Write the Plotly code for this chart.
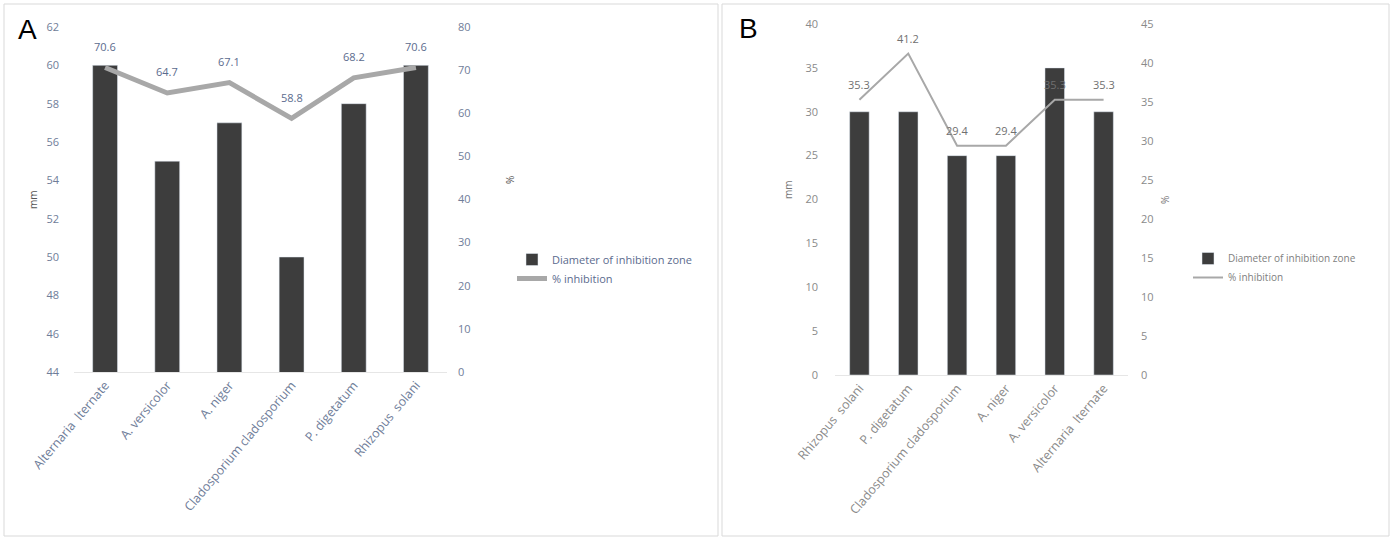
import plotly.graph_objects as go

W, H = 1394, 539

# ---- data ----
cats_a = ["Alternaria  lternate", "A. versicolor", "A. niger",
          "Cladosporium cladosporium", "P. digetatum", "Rhizopus  solani"]
diam_a = [60, 55, 57, 50, 58, 60]
inhib_a = [70.6, 64.7, 67.1, 58.8, 68.2, 70.6]

cats_b = ["Rhizopus  solani", "P. digetatum", "Cladosporium cladosporium",
          "A. niger", "A. versicolor", "Alternaria  lternate"]
diam_b = [30, 30, 25, 25, 35, 30]
inhib_b = [35.3, 41.2, 29.4, 29.4, 35.3, 35.3]

yticks_a_left = list(range(44, 63, 2))
yticks_a_right = list(range(0, 81, 10))
yticks_b_left = list(range(0, 41, 5))
yticks_b_right = list(range(0, 46, 5))


def px(x):
    return x / W


def py(y):
    return 1 - y / H


BAR = "#3d3d3d"
LINE = "#a8a8a8"
TICK_A = "#6f7d99"
TICK_B = "#8a8a8a"
LBL_A = "#5b6b8e"
LBL_B = "#707070"

fig = go.Figure()

# Panel A
fig.add_trace(go.Bar(x=cats_a, y=diam_a, name="Diameter of inhibition zone",
                     marker=dict(color=BAR), width=0.4,
                     xaxis="x", yaxis="y", legend="legend"))
fig.add_trace(go.Scatter(x=cats_a, y=inhib_a, name="% inhibition",
                         mode="lines", line=dict(color=LINE, width=5),
                         xaxis="x", yaxis="y2", legend="legend"))

# Panel B
fig.add_trace(go.Bar(x=cats_b, y=diam_b, name="Diameter of inhibition zone",
                     marker=dict(color=BAR), width=0.4,
                     xaxis="x2", yaxis="y3", legend="legend2"))
fig.add_trace(go.Scatter(x=cats_b, y=inhib_b, name="% inhibition",
                         mode="lines", line=dict(color=LINE, width=2),
                         xaxis="x2", yaxis="y4", legend="legend2"))

dom_a_x = [px(74), px(447)]
dom_a_y = [py(372), py(27)]
dom_b_x = [px(835), px(1128)]
dom_b_y = [py(375), py(24)]

tickfont_a = dict(size=11, color=TICK_A, family="Open Sans")
tickfont_b = dict(size=11, color=TICK_B, family="Open Sans")
xtickfont_a = dict(size=12.5, color=TICK_A, family="Open Sans")
xtickfont_b = dict(size=12.5, color=TICK_B, family="Open Sans")


def ann(text, x, y, size, color, family="Open Sans", angle=0):
    return dict(text=text, x=px(x), y=py(y), xref="paper", yref="paper",
                xanchor="center", yanchor="middle", showarrow=False,
                textangle=angle, font=dict(size=size, color=color, family=family))


annotations = [
    ann("A", 28, 30, 28, "black", "Liberation Sans"),
    ann("B", 748, 28, 28, "black", "Liberation Sans"),
    ann("mm", 33, 200, 10, "#555555", angle=-90),
    ann("%", 510, 180, 10, "#555555", angle=-90),
    ann("mm", 788, 190, 10, "#777777", angle=-90),
    ann("%", 1165, 200, 10, "#777777", angle=-90),
]
# data labels above the line points
for c, v in zip(cats_a, inhib_a):
    annotations.append(dict(text=f"{v:.1f}", x=c, y=v, xref="x", yref="y2",
                            xanchor="center", yanchor="middle",
                            showarrow=False, yshift=21,
                            font=dict(size=11, color=LBL_A, family="Open Sans")))
for c, v in zip(cats_b, inhib_b):
    annotations.append(dict(text=f"{v:.1f}", x=c, y=v, xref="x2", yref="y4",
                            xanchor="center", yanchor="middle",
                            showarrow=False, yshift=15,
                            font=dict(size=11, color=LBL_B, family="Open Sans")))

fig.update_layout(
    width=W, height=H,
    margin=dict(l=0, r=0, t=0, b=0, autoexpand=False),
    paper_bgcolor="white", plot_bgcolor="white",
    bargap=0.5,
    xaxis=dict(domain=dom_a_x, anchor="y", tickangle=-50, tickfont=xtickfont_a,
               showline=True, linecolor="#e6e6e6", ticks="", showgrid=False,
               automargin=False),
    yaxis=dict(domain=dom_a_y, anchor="x", range=[44, 62], tickvals=yticks_a_left,
               tickfont=tickfont_a, showgrid=False, zeroline=False,
               ticklabelstandoff=14, automargin=False),
    yaxis2=dict(overlaying="y", side="right", anchor="x", range=[0, 80],
                tickvals=yticks_a_right, tickfont=tickfont_a, showgrid=False,
                zeroline=False, ticklabelstandoff=10, automargin=False),
    xaxis2=dict(domain=dom_b_x, anchor="y3", tickangle=-50, tickfont=xtickfont_b,
                showline=True, linecolor="#e6e6e6", ticks="", showgrid=False,
                automargin=False),
    yaxis3=dict(domain=dom_b_y, anchor="x2", range=[0, 40], tickvals=yticks_b_left,
                tickfont=tickfont_b, showgrid=False, zeroline=False,
                ticklabelstandoff=16, automargin=False),
    yaxis4=dict(overlaying="y3", side="right", anchor="x2", range=[0, 45],
                tickvals=yticks_b_right, tickfont=tickfont_b, showgrid=False,
                zeroline=False, ticklabelstandoff=12, automargin=False),
    legend=dict(x=px(512), y=py(245), xanchor="left", yanchor="top",
                font=dict(size=11, color=LBL_A, family="Open Sans"),
                bgcolor="rgba(0,0,0,0)", tracegroupgap=6),
    legend2=dict(x=px(1188), y=py(244), xanchor="left", yanchor="top",
                 font=dict(size=10, color="#808080", family="Open Sans"),
                 bgcolor="rgba(0,0,0,0)", tracegroupgap=6),
    shapes=[
        dict(type="rect", xref="paper", yref="paper", x0=px(4), x1=px(718),
             y0=py(536), y1=py(4), line=dict(color="#d9d9d9", width=1)),
        dict(type="rect", xref="paper", yref="paper", x0=px(722), x1=px(1389),
             y0=py(536), y1=py(4), line=dict(color="#d9d9d9", width=1)),
    ],
    annotations=annotations,
)

fig.write_html("out.html", config={"displayModeBar": False},
               post_script="document.body.style.margin='0px';")
